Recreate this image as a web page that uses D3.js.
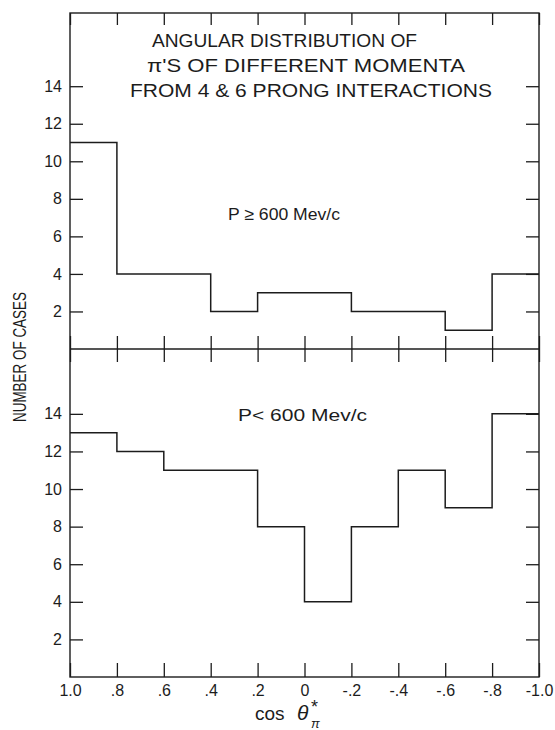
<!DOCTYPE html>
<html>
<head>
<meta charset="utf-8">
<script src="https://cdn.jsdelivr.net/npm/d3@7"></script>
<style>
  body { margin: 0; background: #fff; }
  text { font-family: "Liberation Sans", Arial, sans-serif; fill: #1c1c1c; }
</style>
</head>
<body>
<div id="chart"></div>
<script>
// bin left edges (cos theta, plotted 1.0 -> -1.0)
var binEdges = [1.0, 0.8, 0.6, 0.4, 0.2, 0.0, -0.2, -0.4, -0.6, -0.8];
// P >= 600 Mev/c
var highMomentum = [11, 4, 4, 2, 3, 3, 2, 2, 1, 4];
// P < 600 Mev/c
var lowMomentum = [13, 12, 11, 11, 8, 4, 8, 11, 9, 14];

var xTicks = [1.0, 0.8, 0.6, 0.4, 0.2, 0.0, -0.2, -0.4, -0.6, -0.8, -1.0];
var xTickLabels = ["1.0", ".8", ".6", ".4", ".2", "0", "-.2", "-.4", "-.6", "-.8", "-1.0"];
var yTicks = [2, 4, 6, 8, 10, 12, 14];

var titleLines = ["ANGULAR DISTRIBUTION OF", "\u03C0'S  OF  DIFFERENT  MOMENTA", "FROM  4 & 6  PRONG  INTERACTIONS"];

var width = 555, height = 730;
var plotLeft = 70, plotRight = 539, plotTop = 13, plotMid = 349, plotBottom = 677;
var ink = "#1c1c1c";

var svg = d3.select("#chart")
  .append("svg")
    .attr("width", width)
    .attr("height", height);

var x = d3.scaleLinear().domain([1, -1]).range([plotLeft, plotRight]);
var yTop = d3.scaleLinear().domain([0, 17.9]).range([plotMid, plotTop]);
var yBot = d3.scaleLinear().domain([0, 17.45]).range([plotBottom, plotMid]);

// frame + divider
svg.append("rect")
  .attr("x", plotLeft).attr("y", plotTop)
  .attr("width", plotRight - plotLeft).attr("height", plotBottom - plotTop)
  .attr("fill", "none").attr("stroke", ink).attr("stroke-width", 1.4);
svg.append("line")
  .attr("x1", plotLeft).attr("x2", plotRight).attr("y1", plotMid).attr("y2", plotMid)
  .attr("stroke", ink).attr("stroke-width", 1.4);

function styleAxis(g) {
  g.select(".domain").remove();
  g.selectAll("line").attr("stroke", ink).attr("stroke-width", 1.3);
  g.selectAll("text").attr("font-size", 16).attr("fill", ink)
    .attr("font-family", "\"Liberation Sans\", Arial, sans-serif");
}

// x ticks: top border, divider (crossing), bottom border
svg.append("g")
  .attr("transform", "translate(0," + plotTop + ")")
  .call(d3.axisBottom(x).tickValues(xTicks).tickSize(12).tickFormat(""))
  .call(styleAxis);
svg.append("g")
  .attr("transform", "translate(0," + (plotMid - 13) + ")")
  .call(d3.axisBottom(x).tickValues(xTicks).tickSize(26).tickFormat(""))
  .call(styleAxis);
svg.append("g")
  .attr("transform", "translate(0," + plotBottom + ")")
  .call(d3.axisTop(x).tickValues(xTicks).tickSize(14).tickFormat(""))
  .call(styleAxis);

// x tick labels
svg.append("g")
  .attr("transform", "translate(0," + plotBottom + ")")
  .call(d3.axisBottom(x).tickValues(xTicks).tickSize(0).tickPadding(8)
    .tickFormat(function(d, i) { return xTickLabels[i]; }))
  .call(styleAxis);

// y axes, ticks pointing inward on both sides
[yTop, yBot].forEach(function(y) {
  svg.append("g")
    .attr("transform", "translate(" + plotLeft + ",0)")
    .call(d3.axisLeft(y).tickValues(yTicks).tickSizeInner(-13).tickSizeOuter(0).tickPadding(8))
    .call(styleAxis);
  svg.append("g")
    .attr("transform", "translate(" + plotRight + ",0)")
    .call(d3.axisRight(y).tickValues(yTicks).tickSizeInner(-13).tickSizeOuter(0).tickFormat(""))
    .call(styleAxis);
});

// histograms as step lines
function stepPath(values, y) {
  var pts = binEdges.map(function(e, i) { return [e, values[i]]; });
  pts.push([-1.0, values[values.length - 1]]);
  return d3.line()
    .x(function(d) { return x(d[0]); })
    .y(function(d) { return y(d[1]); })
    .curve(d3.curveStepAfter)(pts);
}
svg.append("path")
  .attr("d", stepPath(highMomentum, yTop))
  .attr("fill", "none").attr("stroke", ink).attr("stroke-width", 1.5);
svg.append("path")
  .attr("d", stepPath(lowMomentum, yBot))
  .attr("fill", "none").attr("stroke", ink).attr("stroke-width", 1.5);

// title
var titlePos = [[152, 47, 265], [147, 72, 318], [130, 97, 362]];
titleLines.forEach(function(t, i) {
  svg.append("text")
    .attr("x", titlePos[i][0]).attr("y", titlePos[i][1])
    .attr("font-size", 19)
    .attr("textLength", titlePos[i][2])
    .attr("lengthAdjust", "spacingAndGlyphs")
    .text(t);
});

// panel labels
svg.append("text")
  .attr("x", 228).attr("y", 220)
  .attr("font-size", 17)
  .attr("textLength", 112).attr("lengthAdjust", "spacingAndGlyphs")
  .text("P \u2265 600 Mev/c");
svg.append("text")
  .attr("x", 238).attr("y", 421)
  .attr("font-size", 17)
  .attr("textLength", 129).attr("lengthAdjust", "spacingAndGlyphs")
  .text("P<  600 Mev/c");

// y axis label
svg.append("text")
  .attr("transform", "translate(26,357) rotate(-90)")
  .attr("text-anchor", "middle")
  .attr("font-size", 18)
  .attr("textLength", 130).attr("lengthAdjust", "spacingAndGlyphs")
  .text("NUMBER OF CASES");

// x axis label: cos theta*_pi
var xl = svg.append("g");
xl.append("text").attr("x", 255).attr("y", 720).attr("font-size", 19).text("cos");
xl.append("text").attr("x", 297).attr("y", 720).attr("font-size", 21)
  .attr("font-style", "italic").attr("font-family", "\"DejaVu Serif\", serif").text("\u03B8");
xl.append("text").attr("x", 311).attr("y", 713).attr("font-size", 18).text("*");
xl.append("text").attr("x", 311).attr("y", 728).attr("font-size", 13)
  .attr("font-style", "italic").attr("font-family", "\"DejaVu Serif\", serif").text("\u03C0");
</script>
</body>
</html>
